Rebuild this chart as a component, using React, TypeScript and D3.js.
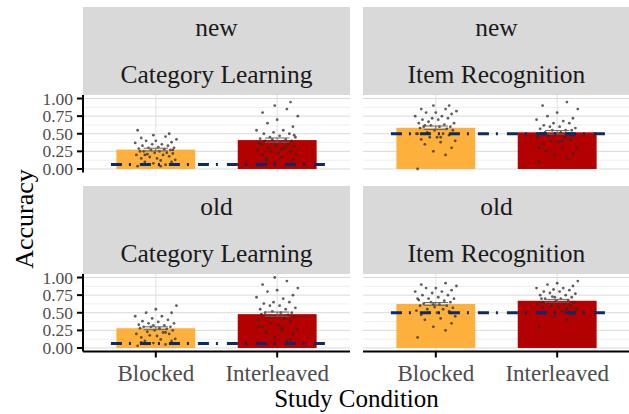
import React from "react";
import * as d3 from "d3";

const conditions = ["Blocked", "Interleaved"];
const itemTypes = ["new", "old"];
const tasks = ["Category Learning", "Item Recognition"];
const yTicks = [0, 0.25, 0.5, 0.75, 1.0];
const minorTicks = [0.125, 0.375, 0.625, 0.875];

const meansNewCat = [0.275, 0.41];
const meansNewItem = [0.585, 0.52];
const meansOldCat = [0.28, 0.48];
const meansOldItem = [0.625, 0.67];
const seNewCat = [0.02, 0.03];
const seNewItem = [0.025, 0.025];
const seOldCat = [0.02, 0.03];
const seOldItem = [0.02, 0.02];
const chanceLevels = [0.0625, 0.5];

const ptsNewCatBlocked = [0.04,0.06,0.08,0.1,0.1,0.12,0.13,0.15,0.15,0.17,0.18,0.2,0.2,0.21,0.22,0.23,0.23,0.25,0.25,0.25,0.27,0.27,0.28,0.29,0.3,0.3,0.31,0.33,0.33,0.35,0.35,0.37,0.38,0.4,0.4,0.42,0.44,0.46,0.48,0.5,0.55,0.04,0.2,0.27];
const ptsNewCatInter = [0.05,0.06,0.1,0.13,0.15,0.17,0.2,0.2,0.22,0.25,0.25,0.27,0.3,0.3,0.32,0.33,0.35,0.35,0.38,0.4,0.4,0.42,0.42,0.43,0.45,0.45,0.47,0.5,0.5,0.52,0.55,0.55,0.6,0.65,0.7,0.75,0.8,0.85,0.9,0.95,0.37,0.28,0.12,0.48];
const ptsNewItemBlocked = [0.0,0.2,0.25,0.3,0.35,0.38,0.4,0.42,0.45,0.45,0.48,0.5,0.5,0.52,0.55,0.55,0.57,0.58,0.6,0.6,0.6,0.62,0.63,0.65,0.65,0.67,0.7,0.7,0.72,0.72,0.75,0.75,0.78,0.8,0.8,0.82,0.85,0.85,0.9,0.9,0.5,0.45,0.62];
const ptsNewItemInter = [0.1,0.15,0.2,0.22,0.25,0.3,0.3,0.35,0.38,0.4,0.42,0.45,0.45,0.47,0.48,0.5,0.5,0.5,0.52,0.52,0.55,0.55,0.55,0.57,0.58,0.6,0.6,0.62,0.65,0.65,0.68,0.7,0.72,0.75,0.8,0.85,0.9,0.95,0.5,0.48,0.3,0.4];
const ptsOldCatBlocked = [0.03,0.05,0.07,0.1,0.1,0.12,0.13,0.15,0.17,0.18,0.2,0.2,0.22,0.23,0.25,0.25,0.27,0.28,0.28,0.3,0.3,0.3,0.32,0.33,0.35,0.35,0.37,0.38,0.4,0.42,0.45,0.45,0.5,0.5,0.55,0.6,0.08,0.22,0.32];
const ptsOldCatInter = [0.05,0.1,0.15,0.2,0.22,0.25,0.27,0.3,0.32,0.35,0.38,0.4,0.42,0.43,0.45,0.45,0.47,0.48,0.5,0.5,0.5,0.52,0.55,0.55,0.57,0.6,0.6,0.63,0.65,0.65,0.7,0.72,0.75,0.8,0.82,0.85,0.9,0.95,1.0,0.12,0.3,0.28];
const ptsOldItemBlocked = [0.15,0.25,0.3,0.35,0.4,0.42,0.45,0.47,0.5,0.5,0.52,0.53,0.55,0.55,0.57,0.58,0.6,0.6,0.62,0.63,0.65,0.65,0.67,0.68,0.7,0.7,0.72,0.75,0.75,0.78,0.8,0.8,0.82,0.85,0.85,0.88,0.9,0.92,0.62,0.5,0.7];
const ptsOldItemInter = [0.3,0.4,0.45,0.48,0.5,0.52,0.55,0.57,0.58,0.6,0.6,0.62,0.63,0.65,0.65,0.67,0.68,0.7,0.7,0.7,0.72,0.73,0.75,0.75,0.77,0.78,0.8,0.8,0.82,0.83,0.85,0.85,0.88,0.9,0.92,0.95,0.65,0.55,0.72];

const jitter = [-0.15,0.08,-0.02,0.13,-0.09,0.04,0.16,-0.12,0.01,-0.05,0.11,-0.16,0.06,-0.07,0.14,-0.01,0.09,-0.13,0.03,-0.1,0.12,-0.04,0.07,-0.14,0.15,-0.06,0.02,-0.11,0.1,-0.03,0.05,-0.17,0.13,-0.08,0.0,0.17,-0.12,0.08,-0.02,0.11,-0.15,0.04,-0.09,0.14,-0.05];

const barColors = ["#FDB03C", "#B30000"];

const panels = [
  { item: 0, task: 0, means: meansNewCat, se: seNewCat, pts: [ptsNewCatBlocked, ptsNewCatInter], col: 0, row: 0 },
  { item: 0, task: 1, means: meansNewItem, se: seNewItem, pts: [ptsNewItemBlocked, ptsNewItemInter], col: 1, row: 0 },
  { item: 1, task: 0, means: meansOldCat, se: seOldCat, pts: [ptsOldCatBlocked, ptsOldCatInter], col: 0, row: 1 },
  { item: 1, task: 1, means: meansOldItem, se: seOldItem, pts: [ptsOldItemBlocked, ptsOldItemInter], col: 1, row: 1 },
];

const colX = [[83, 350], [363, 630]];
const rowStrip = [[7, 95], [186, 274]];
const rowPanel = [[95, 172.5], [274, 351.5]];
const FONT = "'Liberation Serif', 'DejaVu Serif', serif";

function Panel({ p }: { p: any }) {
  const [x0, x1] = colX[p.col];
  const [s0, s1] = rowStrip[p.row];
  const [y0, y1] = rowPanel[p.row];
  const x = d3.scalePoint<string>().domain(conditions).range([x0, x1]).padding(0.6);
  const step = x.step();
  const y = d3.scaleLinear().domain([-0.05, 1.05]).range([y1, y0]);
  const chance = chanceLevels[p.task];
  const bw = step * 0.65;
  const ebw = step * 0.2;
  const lineStart = (x(conditions[0]) as number) - step * 0.37;
  const lineEnd = (x(conditions[1]) as number) + step * 0.4;
  return (
    <g>
      <rect x={x0} y={s0} width={x1 - x0} height={s1 - s0} fill="#d9d9d9" />
      <text x={(x0 + x1) / 2} y={s0 + 29} textAnchor="middle" fontSize={25.5} fill="#1a1a1a" fontFamily={FONT}>{itemTypes[p.item]}</text>
      <text x={(x0 + x1) / 2} y={s0 + 76} textAnchor="middle" fontSize={25.5} fill="#1a1a1a" fontFamily={FONT}>{tasks[p.task]}</text>
      <rect x={x0} y={y0} width={x1 - x0} height={y1 - y0} fill="#ffffff" />
      {minorTicks.map((t) => (
        <line key={"m" + t} x1={x0} x2={x1} y1={y(t)} y2={y(t)} stroke="#e6e6e6" strokeWidth={0.7} />
      ))}
      {yTicks.map((t) => (
        <line key={"g" + t} x1={x0} x2={x1} y1={y(t)} y2={y(t)} stroke="#d9d9d9" strokeWidth={1} />
      ))}
      {conditions.map((c) => (
        <line key={"v" + c} x1={x(c)} x2={x(c)} y1={y0} y2={y1} stroke="#e0e0e0" strokeWidth={1} />
      ))}
      {conditions.map((c, i) => (
        <rect key={"b" + c} x={(x(c) as number) - bw / 2} y={y(p.means[i])} width={bw} height={y(0) - y(p.means[i])} fill={barColors[i]} />
      ))}
      {conditions.map((c, i) =>
        p.pts[i].map((v: number, k: number) => (
          <circle key={c + k} cx={(x(c) as number) + jitter[k % jitter.length] * step} cy={y(v)} r={1.4} fill="#2b2b2b" fillOpacity={0.75} />
        ))
      )}
      {conditions.map((c, i) => {
        const cx = x(c) as number;
        const lo = y(p.means[i] - p.se[i]);
        const hi = y(p.means[i] + p.se[i]);
        return (
          <g key={"e" + c} stroke="#666666" strokeWidth={1}>
            <line x1={cx - ebw / 2} x2={cx + ebw / 2} y1={lo} y2={lo} />
            <line x1={cx - ebw / 2} x2={cx + ebw / 2} y1={hi} y2={hi} />
            <line x1={cx} x2={cx} y1={lo} y2={hi} />
          </g>
        );
      })}
      <line x1={lineStart} x2={lineEnd} y1={y(chance)} y2={y(chance)} stroke="#0b2a66" strokeWidth={3} strokeDasharray="11 7 2 9" />
      {p.col === 0 && (
        <g>
          <line x1={x0} x2={x0} y1={y0} y2={y1} stroke="#000" strokeWidth={2} />
          {yTicks.map((t) => (
            <g key={"yt" + t}>
              <line x1={x0 - 6} x2={x0} y1={y(t)} y2={y(t)} stroke="#000" strokeWidth={2} />
              <text x={x0 - 10} y={y(t)} dy="0.35em" textAnchor="end" fontSize={17.5} fill="#4d4d4d" fontFamily={FONT}>{t.toFixed(2)}</text>
            </g>
          ))}
        </g>
      )}
      {p.row === 1 && (
        <g>
          <line x1={x0} x2={x1} y1={y1} y2={y1} stroke="#000" strokeWidth={2} />
          {conditions.map((c) => (
            <g key={"xt" + c}>
              <line x1={x(c)} x2={x(c)} y1={y1} y2={y1 + 6} stroke="#000" strokeWidth={2} />
              <text x={x(c)} y={381} textAnchor="middle" fontSize={23} fill="#4d4d4d" fontFamily={FONT}>{c}</text>
            </g>
          ))}
        </g>
      )}
    </g>
  );
}

export default function App() {
  const W = 629;
  const H = 414;
  return (
    <svg width={W} height={H} style={{ position: "absolute", left: 0, top: 0, background: "#fff" }}>
      <rect x={0} y={0} width={W} height={H} fill="#fff" />
      {panels.map((p, i) => (
        <Panel key={i} p={p} />
      ))}
      <text x={(83 + 630) / 2} y={407} textAnchor="middle" fontSize={25} fill="#000" fontFamily={FONT}>Study Condition</text>
      <text transform={`translate(33, 219) rotate(-90)`} textAnchor="middle" fontSize={26} fill="#000" fontFamily={FONT}>Accuracy</text>
    </svg>
  );
}
